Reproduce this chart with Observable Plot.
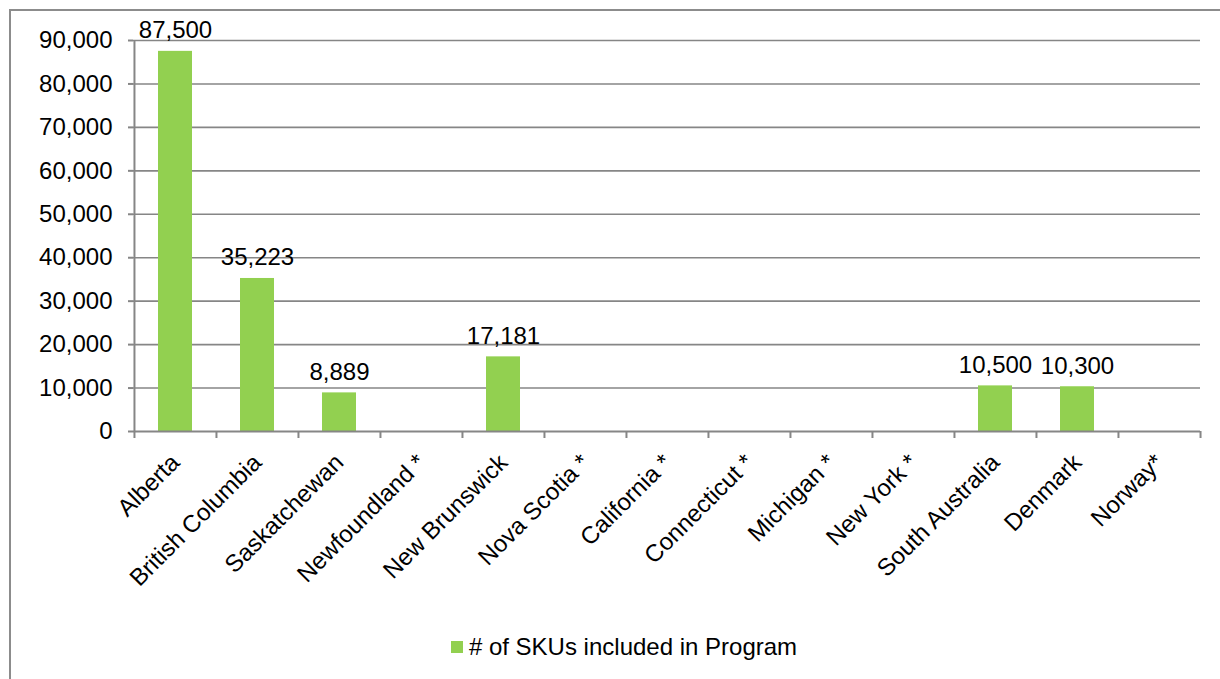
<!DOCTYPE html>
<html>
<head>
<meta charset="utf-8">
<script src="https://cdn.jsdelivr.net/npm/d3@7"></script>
<script src="https://cdn.jsdelivr.net/npm/@observablehq/plot@0.6"></script>
<style>
  html, body { margin: 0; padding: 0; background: #fff; overflow: hidden; }
  body { width: 1220px; height: 679px; position: relative; font-family: "Liberation Sans", Arial, sans-serif; }
  #frame { position: absolute; left: 9px; top: 9px; width: 1240px; height: 700px; border: 2px solid #8c8c8c; box-sizing: border-box; }
  #chart { position: absolute; left: 0; top: 0; }
  #legend { position: absolute; left: 0; top: 632px; width: 1220px; padding-left: 28px; box-sizing: border-box; display: flex; justify-content: center; align-items: center; font-size: 24px; line-height: 30px; color: #000; }
  #legend .sw { width: 12px; height: 12px; margin-right: 6px; display: inline-block; }
</style>
</head>
<body>
<div id="frame"></div>
<div id="chart"></div>
<div id="legend"></div>
<script>
const categories = ["Alberta", "British Columbia", "Saskatchewan", "Newfoundland *", "New Brunswick", "Nova Scotia *", "California *", "Connecticut *", "Michigan *", "New York *", "South Australia", "Denmark", "Norway*"];
const values = [87500, 35223, 8889, null, 17181, null, null, null, null, null, 10500, 10300, null];
const yTicks = [0, 10000, 20000, 30000, 40000, 50000, 60000, 70000, 80000, 90000];
const seriesName = "# of SKUs included in Program";
const seriesColor = "#92D050";

const data = categories.map((c, i) => ({category: c, value: values[i]}));
const present = data.filter(d => d.value != null);
const fmt = d3.format(",");

const width = 1220, marginLeft = 133, marginRight = 20;
const halfStep = (width - marginLeft - marginRight) / categories.length / 2;
const grey = "#868686";

const chart = Plot.plot({
  width: width,
  height: 620,
  marginLeft: marginLeft,
  marginRight: marginRight,
  marginTop: 40,
  marginBottom: 189,
  x: {domain: categories, padding: 0, label: null},
  y: {domain: [0, 90000], label: null},
  style: {fontFamily: "'Liberation Sans', Arial, sans-serif", fontSize: "24px", color: "#000", background: "transparent"},
  marks: [
    Plot.gridY(yTicks.filter(d => d > 0), {stroke: grey, strokeOpacity: 1, strokeWidth: 1.6}),
    Plot.barY(present, {x: "category", y: "value", fill: seriesColor, insetLeft: 24, insetRight: 24}),
    Plot.ruleY([0], {stroke: grey, strokeWidth: 2}),
    Plot.ruleX(categories, {x: d => d, y1: 0, y2: 0, dx: -halfStep, insetBottom: -7, stroke: grey, strokeWidth: 2}),
    Plot.ruleX([categories[categories.length - 1]], {x: d => d, y1: 0, y2: 0, dx: halfStep, insetBottom: -7, stroke: grey, strokeWidth: 2}),
    Plot.ruleX([categories[0]], {x: d => d, y1: 90000, y2: 0, dx: -halfStep, stroke: grey, strokeWidth: 2}),
    Plot.axisY({ticks: yTicks, tickSize: 5, tickPadding: 16, stroke: grey, strokeWidth: 2, fontSize: 24, label: null, tickFormat: d => fmt(d)}),
    Plot.axisX({tickSize: 0, tickRotate: -45, tickPadding: 27, fontSize: 24, label: null}),
    Plot.text(present, {x: "category", y: "value", text: d => fmt(d.value), dy: -13, lineAnchor: "bottom", fontSize: 24, fill: "#000"})
  ]
});
document.getElementById("chart").appendChild(chart);

const legend = document.getElementById("legend");
const sw = document.createElement("span");
sw.className = "sw";
sw.style.background = seriesColor;
legend.appendChild(sw);
const lbl = document.createElement("span");
lbl.textContent = seriesName;
legend.appendChild(lbl);
</script>
</body>
</html>
